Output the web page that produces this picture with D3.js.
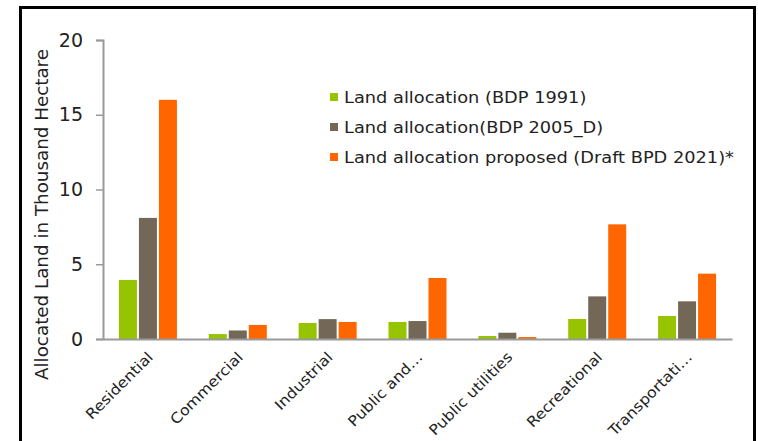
<!DOCTYPE html>
<html>
<head>
<meta charset="utf-8">
<script src="https://cdn.jsdelivr.net/npm/d3@7"></script>
<style>
  html, body { margin: 0; padding: 0; background: #fff; }
  svg { display: block; }
  text { font-family: "DejaVu Sans", sans-serif; fill: #222; }
</style>
</head>
<body>
<svg id="chart" width="758" height="441"></svg>
<script>
const categories = ["Residential", "Commercial", "Industrial", "Public and\u2026", "Public utilities", "Recreational", "Transportati\u2026"];
const seriesNames = ["Land allocation (BDP 1991)", "Land allocation(BDP 2005_D)", "Land allocation proposed (Draft BPD 2021)*"];
const bdp1991 = [3.95, 0.33, 1.07, 1.14, 0.2, 1.34, 1.54];
const bdp2005 = [8.1, 0.57, 1.33, 1.2, 0.42, 2.85, 2.52];
const draft2021 = [16.0, 0.94, 1.14, 4.08, 0.13, 7.67, 4.37];
const yTicks = [0, 5, 10, 15, 20];
const colors = ["#96C400", "#736857", "#FF6600"];

const seriesValues = [bdp1991, bdp2005, draft2021];
const svg = d3.select("#chart");

// widen text horizontally (reference font is a wide geometric face)
function stretch(sel, k) {
  sel.each(function () {
    const w = this.getComputedTextLength();
    d3.select(this).attr("textLength", w * k).attr("lengthAdjust", "spacingAndGlyphs");
  });
}

// outer frame
svg.append("rect")
  .attr("x", 20.5).attr("y", 7.5)
  .attr("width", 734).attr("height", 480)
  .attr("fill", "none").attr("stroke", "#000").attr("stroke-width", 3);

const plot = { left: 103, right: 732, top: 40, bottom: 339 };

const x = d3.scaleBand().domain(categories).range([plot.left, plot.right]).padding(0);
const groupWidth = 58;
const xs = d3.scaleBand().domain(d3.range(seriesNames.length)).range([0, groupWidth]).paddingInner(0.1).paddingOuter(0);
const y = d3.scaleLinear().domain([0, 20]).range([plot.bottom, plot.top]);

// bars
const groups = svg.append("g").selectAll("g")
  .data(categories)
  .join("g")
  .attr("transform", d => `translate(${x(d) + (x.bandwidth() - groupWidth) / 2},0)`);

groups.selectAll("rect")
  .data((d, i) => seriesValues.map((vals, s) => ({ s, v: vals[i] })))
  .join("rect")
  .attr("x", d => xs(d.s))
  .attr("width", xs.bandwidth())
  .attr("y", d => y(d.v))
  .attr("height", d => y(0) - y(d.v))
  .attr("fill", d => colors[d.s]);

// y axis
const yAxis = d3.axisLeft(y).tickValues(yTicks).tickSize(7).tickPadding(13);
const gy = svg.append("g").attr("transform", `translate(${plot.left},0)`).call(yAxis);
gy.select(".domain").attr("stroke", "#9a9a9a").attr("stroke-width", 2);
gy.selectAll(".tick line").attr("stroke", "#9a9a9a").attr("stroke-width", 1.5);
gy.selectAll(".tick text").attr("font-size", 19).attr("fill", "#222")
  .style("font-family", '"DejaVu Sans", sans-serif');

// x axis
const xAxis = d3.axisBottom(x).tickSize(0).tickPadding(0);
const gx = svg.append("g").attr("transform", `translate(0,${plot.bottom})`).call(xAxis);
gx.select(".domain").attr("stroke", "#9a9a9a").attr("stroke-width", 2);
gx.selectAll(".tick text")
  .attr("font-size", 14.5).attr("fill", "#222")
  .style("font-family", '"DejaVu Sans", sans-serif')
  .attr("text-anchor", "end")
  .attr("dy", 0)
  .attr("transform", "translate(6,19) rotate(-45)")
  .call(stretch, 1.1);

// y axis title
svg.append("text")
  .attr("transform", `translate(48,${(49 + 380) / 2}) rotate(-90)`)
  .attr("text-anchor", "middle")
  .attr("font-size", 17)
  .attr("textLength", 331)
  .attr("lengthAdjust", "spacingAndGlyphs")
  .text("Allocated Land in Thousand Hectare");

// legend
const legend = svg.append("g").attr("transform", "translate(330,0)");
const legendY = d3.scalePoint().domain(d3.range(seriesNames.length)).range([96.5, 156.5]);
const li = legend.selectAll("g").data(seriesNames).join("g")
  .attr("transform", (d, i) => `translate(0,${legendY(i)})`);
li.append("rect").attr("x", 0).attr("y", -3.5).attr("width", 8).attr("height", 8)
  .attr("fill", (d, i) => colors[i]);
const lt = li.append("text").attr("x", 14).attr("y", 6.5)
  .attr("font-size", 16)
  .text(d => d);
const longest = d3.max(lt.nodes(), n => n.getComputedTextLength());
lt.call(stretch, 390 / longest);
</script>
</body>
</html>
